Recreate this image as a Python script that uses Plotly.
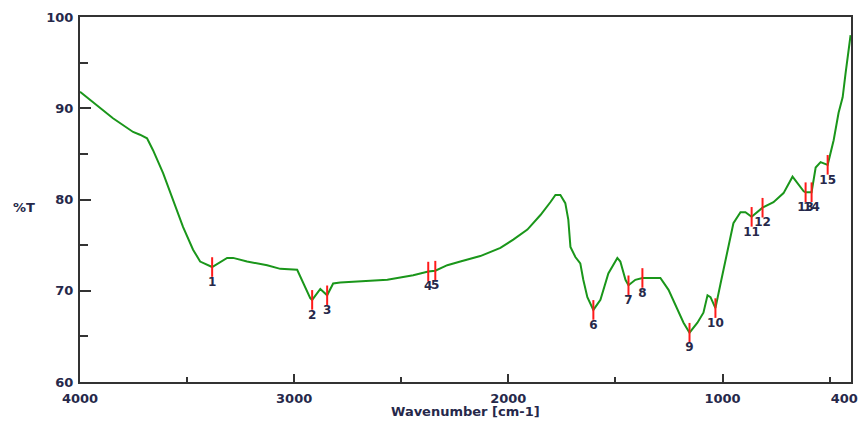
import plotly.graph_objects as go

# Spectrum (wavenumber cm-1, %T)
wavenumber = [4000, 3907, 3846, 3752, 3720, 3687, 3659, 3612, 3565, 3519, 3472, 3439, 3383,
              3313, 3285, 3220, 3126, 3065, 2986, 2958, 2925, 2916, 2878, 2846, 2818, 2785,
              2724, 2565, 2444, 2374, 2341, 2285, 2224, 2131, 2037, 1977, 1911, 1850, 1804,
              1780, 1757, 1734, 1720, 1710, 1687, 1664, 1650, 1631, 1603, 1570, 1533, 1491,
              1477, 1453, 1439, 1407, 1374, 1336, 1290, 1252, 1210, 1182, 1154, 1117, 1089,
              1070, 1056, 1033, 1009, 977, 949, 916, 893, 864, 836, 813, 762, 715, 673, 649,
              621, 612, 584, 565, 542, 509, 481, 458, 439, 425, 416, 402]
transmittance = [91.8, 90.1, 88.9, 87.4, 87.1, 86.7, 85.4, 82.9, 79.9, 77.0, 74.5, 73.2, 72.6,
                 73.6, 73.6, 73.2, 72.8, 72.4, 72.3, 70.8, 69.2, 69.0, 70.2, 69.5, 70.8, 70.9,
                 71.0, 71.2, 71.7, 72.1, 72.2, 72.8, 73.2, 73.8, 74.7, 75.6, 76.7, 78.3, 79.7,
                 80.5, 80.5, 79.6, 77.8, 74.8, 73.7, 73.0, 71.2, 69.3, 67.9, 69.0, 71.9, 73.6,
                 73.2, 71.2, 70.6, 71.2, 71.4, 71.4, 71.4, 70.1, 67.9, 66.5, 65.4, 66.5, 67.6,
                 69.5, 69.3, 68.1, 70.8, 74.5, 77.4, 78.6, 78.6, 78.1, 78.6, 79.1, 79.7, 80.7,
                 82.5, 81.8, 80.9, 80.8, 80.8, 83.5, 84.1, 83.8, 86.5, 89.5, 91.2, 93.9, 95.6, 98.0]

# Picked peaks
peak_labels = ["1", "2", "3", "4", "5", "6", "7", "8", "9", "10", "11", "12", "13", "14", "15"]
peak_wn = [3383, 2916, 2846, 2374, 2341, 1603, 1439, 1374, 1154, 1033, 864, 813, 612, 584, 509]
peak_t = [72.6, 69.0, 69.5, 72.1, 72.2, 67.9, 70.6, 71.4, 65.4, 68.1, 78.1, 79.1, 80.8, 80.8, 83.8]

x_tickvals = [4000, 3000, 2000, 1000, 400]
# trailing no-break spaces keep the last label clear of the window edge
x_ticktext = ["4000", "3000", "2000", "1000", "400\u00a0\u00a0\u00a0"]
x_minor = [3500, 2500, 1500, 500]
y_tickvals = [60, 70, 80, 90, 100]
y_minor = [65, 75, 85, 95]

text_color = "#26284a"
font_family = "DejaVu Sans"

fig = go.Figure()
fig.add_trace(go.Scatter(x=wavenumber, y=transmittance, mode="lines",
                         line=dict(color="#1a961a", width=2), hoverinfo="skip"))
fig.add_trace(go.Scatter(x=peak_wn, y=peak_t, mode="markers+text", text=peak_labels,
                         textposition="bottom center",
                         textfont=dict(family=font_family, size=12, color=text_color, weight="bold"),
                         marker=dict(symbol="line-ns", size=14,
                                     line=dict(color="#ff1a1a", width=2)),
                         hoverinfo="skip"))

axis_common = dict(showline=True, linecolor="#333333", linewidth=2, mirror=True,
                   showgrid=False, zeroline=False, ticks="inside", tickcolor="#333333",
                   tickwidth=2, automargin=False, ticklabeloverflow="allow",
                   tickfont=dict(family=font_family, size=13, color=text_color, weight="bold"))

fig.update_xaxes(range=[4000, 400], tickvals=x_tickvals, ticktext=x_ticktext, ticklen=8,
                 minor=dict(tickvals=x_minor, ticks="inside", ticklen=5,
                            tickcolor="#333333", tickwidth=2),
                 ticklabelstandoff=3, **axis_common)
fig.update_yaxes(range=[60, 100], tickvals=y_tickvals, ticklen=11,
                 minor=dict(tickvals=y_minor, ticks="inside", ticklen=8,
                            tickcolor="#333333", tickwidth=2),
                 ticklabelstandoff=2, **axis_common)

fig.add_annotation(text="Wavenumber [cm-1]", xref="paper", yref="paper", x=0.5, y=-0.082,
                   xanchor="center", yanchor="middle", showarrow=False,
                   font=dict(family=font_family, size=13, color=text_color, weight="bold"))
fig.add_annotation(text="%T", xref="paper", yref="paper", x=-0.073, y=0.479,
                   xanchor="center", yanchor="middle", showarrow=False,
                   font=dict(family=font_family, size=13, color=text_color, weight="bold"))

# the page body adds an 8 px offset, so the figure is sized and margined to compensate
fig.update_layout(width=859, height=413, margin=dict(l=72, r=16, t=9, b=39, autoexpand=False),
                  paper_bgcolor="white", plot_bgcolor="white", showlegend=False)

fig.write_html("out.html")
